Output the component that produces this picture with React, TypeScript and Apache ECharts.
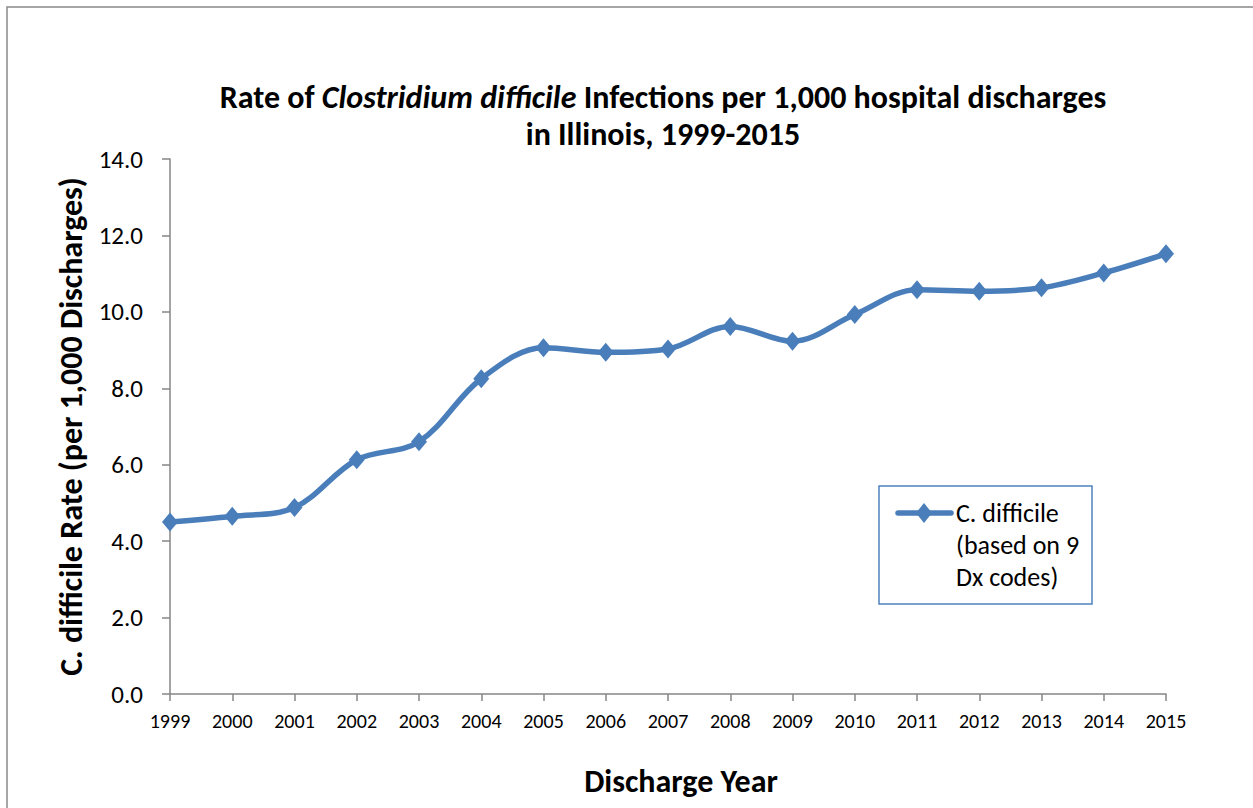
import React, { useEffect, useRef } from "react";
import * as echarts from "echarts";

const years = ["1999","2000","2001","2002","2003","2004","2005","2006","2007","2008","2009","2010","2011","2012","2013","2014","2015"];
const rates = [4.50, 4.65, 4.88, 6.13, 6.60, 8.25, 9.06, 8.94, 9.03, 9.62, 9.23, 9.93, 10.58, 10.54, 10.63, 11.02, 11.52];
const yTicks = { min: 0, max: 14, interval: 2 };
const legendLines = ["C. difficile", "(based on 9", "Dx codes)"];

const FONT = "Carlito, Lato, 'Open Sans', sans-serif";
const BLUE = "#4A7EBB";
const AXIS = "#868686";

export default function App() {
  const ref = useRef<HTMLDivElement>(null);
  useEffect(() => {
    if (!ref.current) return;
    const chart = echarts.init(ref.current, undefined, { renderer: "svg" });
    chart.setOption({
      animation: false,
      backgroundColor: "#ffffff",
      grid: { left: 170, right: 87, top: 159, bottom: 114, containLabel: false },
      xAxis: {
        type: "category",
        data: years,
        boundaryGap: false,
        name: "Discharge Year",
        nameLocation: "middle",
        nameGap: 71,
        nameTextStyle: { fontFamily: FONT, fontWeight: "bold", fontSize: 32, color: "#000", padding: [0, 0, 0, 26] },
        axisLine: { lineStyle: { color: AXIS, width: 1.5 } },
        axisTick: { alignWithLabel: true, length: 7, lineStyle: { color: AXIS, width: 1.5 } },
        axisLabel: { fontFamily: FONT, fontSize: 20, color: "#000", margin: 17 },
        splitLine: { show: false },
      },
      yAxis: {
        type: "value",
        min: yTicks.min,
        max: yTicks.max,
        interval: yTicks.interval,
        name: "C. difficile Rate (per 1,000 Discharges)",
        nameLocation: "middle",
        nameGap: 69,
        nameTextStyle: { fontFamily: FONT, fontWeight: "bold", fontSize: 32, color: "#000" },
        axisLine: { show: true, lineStyle: { color: AXIS, width: 1.5 } },
        axisTick: { show: true, length: 8, lineStyle: { color: AXIS, width: 1.5 } },
        axisLabel: {
          fontFamily: FONT,
          fontSize: 25,
          color: "#000",
          margin: 27,
          formatter: (v: number) => v.toFixed(1),
        },
        splitLine: { show: false },
      },
      series: [
        {
          type: "line",
          name: "C. difficile (based on 9 Dx codes)",
          data: rates,
          smooth: 0.35,
          symbol: "diamond",
          symbolSize: [16, 19],
          lineStyle: { color: BLUE, width: 5.5 },
          itemStyle: { color: BLUE },
        },
      ],
      graphic: [
        {
          type: "rect",
          shape: { x: 7, y: 7, width: 1300, height: 900 },
          style: { fill: "none", stroke: "#898989", lineWidth: 1.5 },
          silent: true,
        },
        {
          type: "text",
          x: 663,
          y: 116,
          style: {
            text:
              "{b|Rate of }{bi|Clostridium difficile}{b| Infections per 1,000 hospital discharges}\n{b|in Illinois, 1999-2015}",
            align: "center",
            verticalAlign: "middle",
            textAlign: "center",
            textVerticalAlign: "middle",
            rich: {
              b: { fontFamily: FONT, fontWeight: "bold", fontSize: 32, fill: "#000", lineHeight: 37 },
              bi: { fontFamily: FONT, fontWeight: "bold", fontStyle: "italic", fontSize: 32, fill: "#000", lineHeight: 37 },
            },
          },
        },
        {
          type: "rect",
          shape: { x: 879, y: 486, width: 213, height: 118 },
          style: { fill: "#fff", stroke: "#4F81BD", lineWidth: 1.5 },
        },
        {
          type: "line",
          shape: { x1: 898, y1: 513, x2: 951, y2: 513 },
          style: { stroke: BLUE, lineWidth: 5.5, lineCap: "round" },
        },
        {
          type: "polygon",
          shape: { points: [[924, 503], [932, 513], [924, 523], [916, 513]] },
          style: { fill: BLUE },
        },
        ...legendLines.map((t, i) => ({
          type: "text",
          x: 956,
          y: 513 + i * 32,
          style: {
            text: t,
            fontFamily: FONT,
            fontSize: 26,
            fill: "#000",
            align: "left",
            verticalAlign: "middle",
            textAlign: "left",
            textVerticalAlign: "middle",
          },
        })),
      ],
    });
    return () => chart.dispose();
  }, []);
  return (
    <div
      ref={ref}
      style={{ position: "absolute", left: 0, top: 0, width: 1253, height: 808, overflow: "hidden" }}
    />
  );
}
